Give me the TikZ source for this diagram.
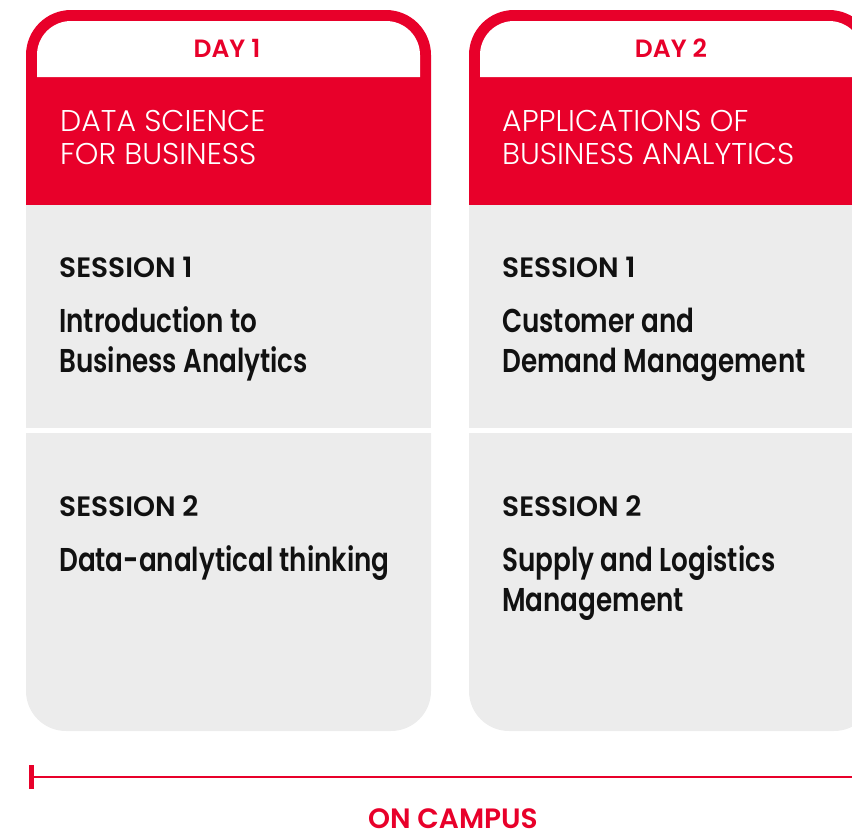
\documentclass[tikz,border=0pt]{standalone}
\usepackage{fontspec}
\setmainfont{Poppins}
\newfontfamily\ptitle{Poppins SemiBold}[FakeStretch=0.795]
\newfontfamily\psemi{Poppins SemiBold}
\newfontfamily\plight{Poppins Light}
\definecolor{brandred}{HTML}{E8002A}
\definecolor{cardgrey}{HTML}{ECECEC}
\definecolor{ink}{HTML}{111111}
\tikzset{
  dayhead/.style={font=\psemi\fontsize{25}{30}\selectfont, text=brandred, inner sep=0pt, anchor=base},
  topic/.style={font=\plight\fontsize{30}{33}\selectfont, text=white, inner sep=0pt, anchor=base west, align=left},
  sesslabel/.style={font=\psemi\fontsize{28}{30}\selectfont, text=ink, inner sep=0pt, anchor=base west},
  sesstitle/.style={font=\ptitle\fontsize{33}{40}\selectfont, text=ink, inner sep=0pt, anchor=base west, align=left},
  campus/.style={font=\psemi\fontsize{28}{30}\selectfont, text=brandred, inner sep=0pt, anchor=base},
  redtop/.style={fill=brandred},
  greybox/.style={fill=cardgrey},
}
\begin{document}
\begin{tikzpicture}[x=1pt,y=-1pt]
\useasboundingbox (0,0) rectangle (852,836);
\clip (0,0) rectangle (852,836);
% ---- card 1
\fill[redtop] (26,205) -- (26,55) arc[start angle=180,end angle=270,radius=45] -- (386,10)
   arc[start angle=270,end angle=360,radius=45] -- (431,205) -- cycle;
\fill[white] (37,77) -- (37,55) arc[start angle=180,end angle=270,radius=34] -- (386,21)
   arc[start angle=270,end angle=360,radius=34] -- (420,77) -- cycle;
\fill[greybox] (26,205) rectangle (431,428);
\fill[greybox] (26,433) -- (431,433) -- (431,691) arc[start angle=0,end angle=90,radius=40]
   -- (66,731) arc[start angle=90,end angle=180,radius=40] -- cycle;
% ---- card 2
\fill[redtop] (469,205) -- (469,55) arc[start angle=180,end angle=270,radius=45] -- (829,10)
   arc[start angle=270,end angle=360,radius=45] -- (874,205) -- cycle;
\fill[white] (480,77) -- (480,55) arc[start angle=180,end angle=270,radius=34] -- (829,21)
   arc[start angle=270,end angle=360,radius=34] -- (863,77) -- cycle;
\fill[greybox] (469,205) rectangle (874,428);
\fill[greybox] (469,433) -- (874,433) -- (874,691) arc[start angle=0,end angle=90,radius=40]
   -- (509,731) arc[start angle=90,end angle=180,radius=40] -- cycle;
% ---- texts card 1 (multi-line nodes: base = last line)
\node[dayhead] (day1) at (227,57) {DAY 1};
\node[topic] (topic1) at (60,164) {DATA SCIENCE\\FOR BUSINESS};
\node[sesslabel] (s11) at (59,277) {SESSION 1};
\node[sesstitle] (t11) at (59,372) {Introduction to\\Business Analytics};
\node[sesslabel] (s12) at (59,516) {SESSION 2};
\node[sesstitle] (t12) at (59,571) {Data-analytical thinking};
% ---- texts card 2
\node[dayhead] (day2) at (671,57) {DAY 2};
\node[topic] (topic2) at (502,164) {APPLICATIONS OF\\BUSINESS ANALYTICS};
\node[sesslabel] (s21) at (502,277) {SESSION 1};
\node[sesstitle] (t21) at (502,372) {Customer and\\Demand Management};
\node[sesslabel] (s22) at (502,516) {SESSION 2};
\node[sesstitle] (t22) at (502,611) {Supply and Logistics\\Management};
% ---- timeline
\coordinate (tl) at (31.5,777);
\coordinate (tr) at (852,777);
\coordinate (tickt) at (31.5,765);
\coordinate (tickb) at (31.5,789);
\draw[brandred, line width=2.5pt] (tl) -- (tr);
\draw[brandred, line width=5pt] (tickt) -- (tickb);
\node[campus] (oncampus) at (453,828) {ON CAMPUS};
\end{tikzpicture}
\end{document}
